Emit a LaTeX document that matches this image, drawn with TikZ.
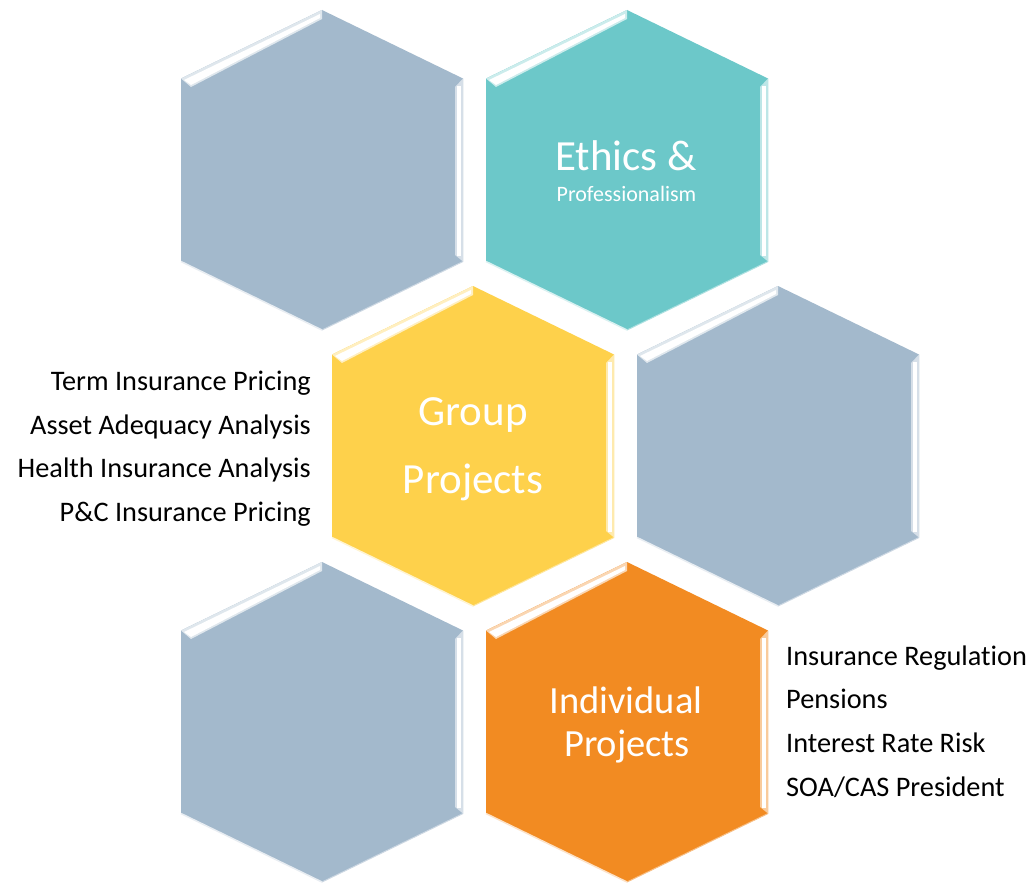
\documentclass[tikz,border=0pt]{standalone}
\usepackage{fontspec}
\setmainfont[Ligatures=NoCommon]{Carlito}
\definecolor{hexgrey}{HTML}{A3B9CC}
\definecolor{hexteal}{HTML}{6CC8C9}
\definecolor{hexyellow}{HTML}{FED14B}
\definecolor{hexorange}{HTML}{F28B22}
\newcommand\hexcell[3]{%
  \begin{scope}[shift={#2}]
    \fill[#3] (0,-160) -- (141,-91.5) -- (141,91.5) -- (0,160) -- (-141,91.5) -- (-141,-91.5) -- cycle;
    % upper-left bevel
    \fill[#3!35!white] (-141,-91.5) -- (0,-160) -- (0,-151) -- (-131,-83) -- cycle;
    \fill[white] (-138,-90) -- (-2,-156) -- (-2,-152) -- (-131,-85) -- cycle;
    % right bevel
    \fill[#3!45!white] (141,-91.5) -- (141,91.5) -- (133,85) -- (133,-83) -- cycle;
    \fill[white] (135,-84) rectangle (139,86);
    % lower-left rim
    \draw[#3!25!white, line width=1.5pt] (-141,91.5) -- (0,160);
    \draw[#3!55!white, line width=1pt] (141,91.5) -- (0,160);
  \end{scope}
  \coordinate (#1) at #2;}
\begin{document}
\begin{tikzpicture}[x=1pt,y=-1pt,
  bigtext/.style={text=white, inner sep=0pt, anchor=base, font=\fontsize{43}{50}\selectfont},
  midtext/.style={text=white, inner sep=0pt, anchor=base, font=\fontsize{38.5}{45}\selectfont},
  smalltext/.style={text=white, inner sep=0pt, anchor=base, font=\fontsize{22}{26}\selectfont},
  leftitem/.style={text=black, inner sep=0pt, anchor=base east, font=\fontsize{28.3}{32}\selectfont},
  rightitem/.style={text=black, inner sep=0pt, anchor=base west, font=\fontsize{28.3}{32}\selectfont}]
\useasboundingbox (0,0) rectangle (1032,883);
\fill[white] (0,0) rectangle (1032,883);
\hexcell{hexTL}{(322,170)}{hexgrey}
\hexcell{hexTR}{(627,170)}{hexteal}
\hexcell{hexML}{(473,446)}{hexyellow}
\hexcell{hexMR}{(778,446)}{hexgrey}
\hexcell{hexBL}{(322,722)}{hexgrey}
\hexcell{hexBR}{(627,722)}{hexorange}
% Ethics
\node[bigtext] (eth1) at (626,170) {Ethics \&};
\node[smalltext] (eth2) at (626.5,201.5) {Professionalism};
% Group
\node[bigtext] (grp1) at (473,425) {Group};
\node[bigtext] (grp2) at (473,493) {Projects};
% Individual
\node[midtext] (ind1) at (626,713) {Individual};
\node[midtext] (ind2) at (627,756) {Projects};
% left list
\node[leftitem] (l1) at (311,390) {Term Insurance Pricing};
\node[leftitem] (l2) at (311,434) {Asset Adequacy Analysis};
\node[leftitem] (l3) at (311,477) {Health Insurance Analysis};
\node[leftitem] (l4) at (311,521) {P\&C Insurance Pricing};
% right list
\node[rightitem] (r1) at (786,665) {Insurance Regulation};
\node[rightitem] (r2) at (786,708) {Pensions};
\node[rightitem] (r3) at (786,752.5) {Interest Rate Risk};
\node[rightitem] (r4) at (786,796.5) {SOA/CAS President};
\end{tikzpicture}
\end{document}
